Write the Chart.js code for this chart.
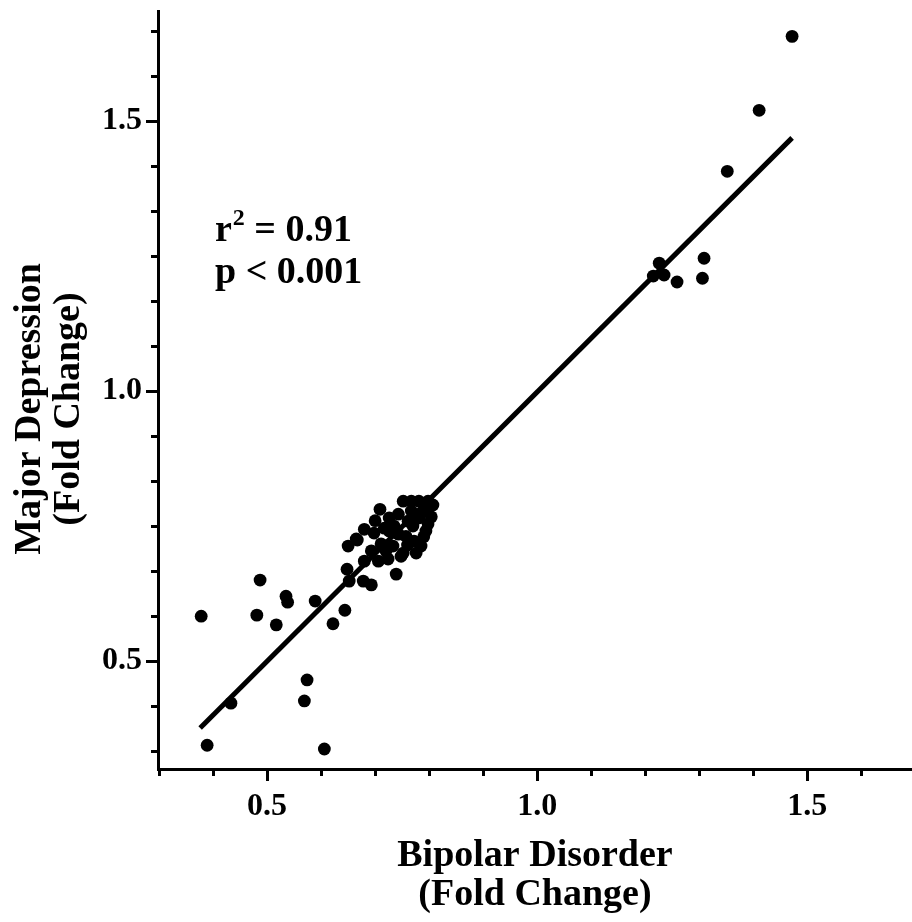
<!DOCTYPE html>
<html><head><meta charset="utf-8">
<script src="https://cdn.jsdelivr.net/npm/chart.js@4.4.1/dist/chart.umd.min.js"></script>
<style>html,body{margin:0;padding:0;background:#fff;}canvas{display:block;}</style>
</head><body>
<canvas id="c" width="912" height="922"></canvas>
<script>
// Bipolar disorder fold change (x) and major depression fold change (y), one entry per gene
const bipolarFC = [
  1.472, 1.411, 1.352, 1.226, 1.215, 1.235, 1.259, 1.309, 1.306,
  0.378, 0.487, 0.481, 0.517, 0.535, 0.538, 0.589, 0.622, 0.644, 0.433, 0.574, 0.569, 0.389, 0.606,
  0.648, 0.652, 0.650, 0.667, 0.678, 0.693, 0.739, 0.709,
  0.752, 0.767, 0.781, 0.798, 0.807, 0.767, 0.743, 0.726, 0.761, 0.791, 0.798, 0.804, 0.781, 0.770,
  0.680, 0.665, 0.698, 0.717, 0.743, 0.772, 0.785, 0.776, 0.752, 0.733, 0.711, 0.693, 0.680, 0.706,
  0.724, 0.748, 0.726, 0.757, 0.794, 0.720, 0.700, 0.735, 0.790, 0.760
];
const depressionFC = [
  1.657, 1.520, 1.407, 1.237, 1.213, 1.215, 1.202, 1.246, 1.209,
  0.583, 0.650, 0.585, 0.567, 0.620, 0.609, 0.611, 0.569, 0.594, 0.422, 0.465, 0.426, 0.344, 0.337,
  0.670, 0.648, 0.713, 0.724, 0.648, 0.641, 0.661, 0.781,
  0.796, 0.796, 0.796, 0.796, 0.789, 0.778, 0.772, 0.765, 0.759, 0.778, 0.754, 0.767, 0.765, 0.750,
  0.744, 0.726, 0.737, 0.746, 0.735, 0.722, 0.713, 0.700, 0.700, 0.713, 0.717, 0.704, 0.685, 0.685,
  0.689, 0.694, 0.741, 0.731, 0.741, 0.704, 0.760, 0.750, 0.730, 0.715
];
// regression line end points
const fitX = [0.376, 1.472];
const fitY = [0.376, 1.469];

const xMajorTicks = [0.5, 1.0, 1.5];
const yMajorTicks = [0.5, 1.0, 1.5];
const xMinorTicks = [0.3, 0.4, 0.6, 0.7, 0.8, 0.9, 1.1, 1.2, 1.3, 1.4, 1.6];
const yMinorTicks = [0.3333, 0.4167, 0.5833, 0.6667, 0.75, 0.8333, 0.9167, 1.0833, 1.1667, 1.25, 1.3333, 1.4167, 1.5833, 1.6667];

const xTitle = ['Bipolar Disorder', '(Fold Change)'];
// trailing no-break spaces nudge the rotated, centred title down along the axis
const yTitle = ['Major Depression\u00A0\u00A0\u00A0\u00A0', '(Fold Change)\u00A0\u00A0\u00A0\u00A0'];
const statR = 'r', statSup = '2', statRest = ' = 0.91', statP = 'p < 0.001';

const FAM = '"Liberation Serif", "Times New Roman", serif';

const minorTicks = {
  id: 'minorTicks',
  afterDraw(chart) {
    const ctx = chart.ctx, xs = chart.scales.x, ys = chart.scales.y, a = chart.chartArea;
    ctx.save();
    ctx.strokeStyle = '#000'; ctx.lineWidth = 3; ctx.lineCap = 'butt';
    ctx.beginPath();
    xMinorTicks.forEach(v => { const p = Math.round(xs.getPixelForValue(v)) + 0.5; ctx.moveTo(p, a.bottom); ctx.lineTo(p, a.bottom + 7); });
    yMinorTicks.forEach(v => { const p = Math.round(ys.getPixelForValue(v)) + 0.5; ctx.moveTo(a.left, p); ctx.lineTo(a.left - 7, p); });
    ctx.stroke();
    ctx.restore();
  }
};

const statText = {
  id: 'statText',
  afterDraw(chart) {
    const ctx = chart.ctx;
    ctx.save();
    ctx.fillStyle = '#000';
    ctx.textBaseline = 'alphabetic';
    ctx.textAlign = 'left';
    ctx.font = 'bold 38px ' + FAM;
    let x = 215;
    ctx.fillText(statR, x, 241);
    x += ctx.measureText(statR).width + 1;
    ctx.font = 'bold 24px ' + FAM;
    ctx.fillText(statSup, x, 225);
    x += ctx.measureText(statSup).width;
    ctx.font = 'bold 38px ' + FAM;
    ctx.fillText(statRest, x, 241);
    ctx.fillText(statP, 215, 283);
    ctx.restore();
  }
};

const tickFont = { family: FAM, size: 32, weight: 'bold' };
const titleFont = { family: FAM, size: 38, weight: 'bold', lineHeight: 1.03 };

new Chart(document.getElementById('c'), {
  type: 'scatter',
  data: {
    datasets: [
      {
        label: 'Genes',
        data: bipolarFC.map((v, i) => ({ x: v, y: depressionFC[i] })),
        backgroundColor: '#000', borderColor: '#000', borderWidth: 0,
        pointRadius: 6.4, pointHoverRadius: 6.4, order: 2
      },
      {
        label: 'Fit',
        type: 'line',
        data: fitX.map((v, i) => ({ x: v, y: fitY[i] })),
        borderColor: '#000', borderWidth: 5, borderCapStyle: 'butt',
        pointRadius: 0, showLine: true, fill: false, order: 1
      }
    ]
  },
  options: {
    responsive: false, animation: false, devicePixelRatio: 1,
    layout: { autoPadding: false, padding: { top: 11, right: 0, left: 0, bottom: 0 } },
    plugins: { legend: { display: false }, tooltip: { enabled: false } },
    scales: {
      x: {
        type: 'linear', min: 0.298, max: 1.694,
        afterFit(s) { s.height = 153; s.paddingLeft = 0; s.paddingRight = 0; },
        afterBuildTicks(s) { s.ticks = xMajorTicks.map(v => ({ value: v })); },
        ticks: { font: tickFont, color: '#000', padding: 7, maxRotation: 0, autoSkip: false, callback: v => Number(v).toFixed(1) },
        grid: { display: true, drawOnChartArea: false, tickLength: 12, tickWidth: 3, tickColor: '#000' },
        border: { display: true, width: 3, color: '#000' },
        title: { display: true, text: xTitle, font: titleFont, color: '#000', padding: { top: 0, bottom: 7.5 } }
      },
      y: {
        type: 'linear', min: 0.3, max: 1.704,
        afterFit(s) { s.width = 158; s.paddingTop = 0; s.paddingBottom = 0; },
        afterBuildTicks(s) { s.ticks = yMajorTicks.map(v => ({ value: v })); },
        ticks: { font: tickFont, color: '#000', padding: 4, autoSkip: false, callback: v => Number(v).toFixed(1) },
        grid: { display: true, drawOnChartArea: false, tickLength: 12, tickWidth: 3, tickColor: '#000' },
        border: { display: true, width: 3, color: '#000' },
        title: { display: true, text: yTitle, font: titleFont, color: '#000', padding: { top: 10.5, bottom: 0 } }
      }
    }
  },
  plugins: [minorTicks, statText]
});
</script>
</body></html>
